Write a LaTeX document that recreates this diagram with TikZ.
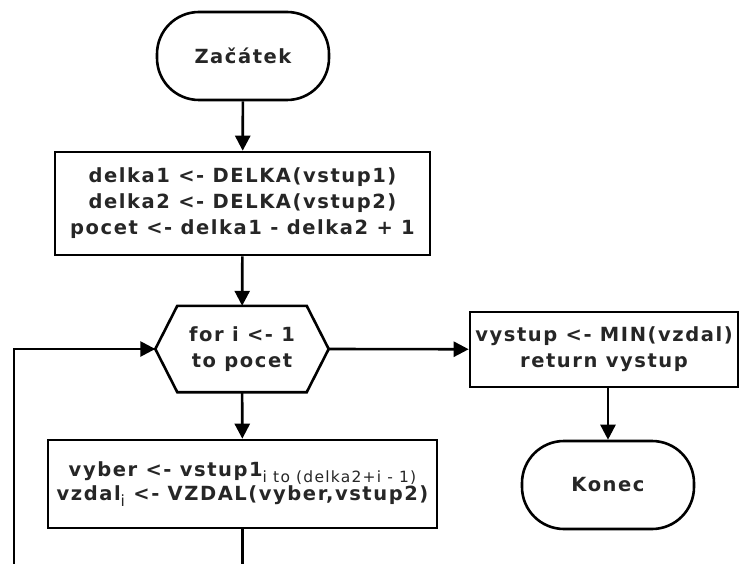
\documentclass[tikz,border=0pt]{standalone}
\usepackage{fontspec}
\setmainfont{DejaVu Sans}
\newfontfamily\chartfont[LetterSpace=8]{DejaVu Sans}
\usetikzlibrary{arrows.meta}
\newcommand{\idx}[1]{\raisebox{-6pt}{\mdseries\fontsize{15.5}{15.5}\selectfont #1}}
\begin{document}
\begin{tikzpicture}[x=1pt,y=-1pt,
  every node/.style={font=\chartfont\bfseries\fontsize{19.5}{26}\selectfont, align=center, inner sep=0pt, text=black!85},
  terminal/.style={draw=black, line width=2.6pt, rounded corners=42pt, minimum width=172pt, minimum height=88pt},
  procbox/.style={draw=black, line width=2.6pt},
  flow/.style={line width=2.6pt, -{Triangle[length=15pt,width=15pt]}},
  plain/.style={line width=2.6pt}
]
\useasboundingbox (0,0) rectangle (739,564);

\node[terminal] (start) at (243,56) {Začátek};
\node[procbox, minimum width=375pt, minimum height=103pt] (init) at (242.5,203.5)
  {delka1 <- DELKA(vstup1)\\delka2 <- DELKA(vstup2)\\pocet <- delka1 - delka2 + 1};

% loop header: text node with a hexagon drawn around it
\node[minimum width=173pt, minimum height=86pt] (loop) at (242,349) {for i <- 1\\to pocet};
\draw[line width=2.6pt, line join=miter] (loop.west) -- ([xshift=22pt]loop.north west) -- ([xshift=-22pt]loop.north east)
  -- (loop.east) -- ([xshift=-22pt]loop.south east) -- ([xshift=22pt]loop.south west) -- cycle;

\node[procbox, minimum width=389pt, minimum height=88pt,
      font=\chartfont\bfseries\fontsize{19.5}{24}\selectfont] (body) at (242.5,484)
  {vyber <- vstup1\idx{i to (delka2+i - 1)}\\
   vzdal\idx{i} <- VZDAL(vyber,vstup2)};

\node[procbox, minimum width=268pt, minimum height=75pt] (result) at (604,349.5)
  {vystup <- MIN(vzdal)\\return vystup};
\node[terminal] (stop) at (608,485) {Konec};

\coordinate (bodyout) at (242.5,566);
\coordinate (loopback) at (14,566);

\draw[flow] (start) -- (init);
\draw[flow] (init) -- (loop);
\draw[flow] (loop) -- (body);
\draw[plain] (body) -- (bodyout);
\draw[flow] (loopback) |- (loop.west);
\draw[flow] (loop.east) -- (result);
\draw[flow] (result.south -| stop) -- (stop);
\end{tikzpicture}
\end{document}
